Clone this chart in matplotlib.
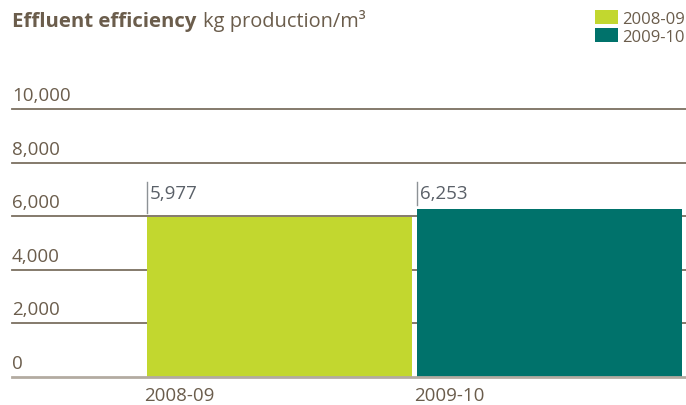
import matplotlib.pyplot as plt

# data
years = ["2008-09", "2009-10"]
values = [5977, 6253]
yticks = [0, 2000, 4000, 6000, 8000, 10000]
ytick_labels = ["0", "2,000", "4,000", "6,000", "8,000", "10,000"]
value_labels = ["5,977", "6,253"]

colors = ["#c2d72f", "#00726b"]
brown = "#6b5d4c"
plt.rcParams["font.family"] = ["Open Sans", "DejaVu Sans"]

fig = plt.figure(figsize=(6.86, 4.06), dpi=100)
W, H = 686, 406
# axes: x from 12px to 686px, y: 0 at 378px, 10000 at 110px
ax = fig.add_axes([12 / W, (H - 378) / H, 674 / W, (378 - 110) / H])
ax.set_xlim(-0.5, 1.996)
ax.set_ylim(0, 10000)
ax.axis("off")

xpos = list(range(len(years)))
bars = ax.bar(xpos, values, width=0.981, align="edge", color=colors, zorder=2)

# gridlines
for v in yticks[1:]:
    ax.axhline(v, color="#7b6f60", lw=1.3, zorder=1, clip_on=False)
ax.axhline(0, color="#b3aba1", lw=2, zorder=3, clip_on=False)

# y labels above lines
for v, lab in zip(yticks, ytick_labels):
    ax.annotate(lab, xy=(0, v), xycoords=("axes fraction", "data"),
                xytext=(0, 9), textcoords="offset pixels",
                ha="left", va="baseline", fontsize=13.5, color=brown)

# value labels at a common height, with a small marker line
label_y = 6680
for x, v, lab in zip(xpos, values, value_labels):
    ax.plot([x, x], [v + 150, label_y + 600], color="#8d9296", lw=1, zorder=3)
    ax.annotate(lab, xy=(x, label_y), xytext=(3, 0), textcoords="offset pixels",
                ha="left", va="baseline", fontsize=13.5, color="#5a6068")

# x labels
for x, lab in zip(xpos, years):
    ax.annotate(lab, xy=(x, 0), xytext=(-3, -18), textcoords="offset pixels",
                ha="left", va="center", fontsize=13.5, color=brown)

# title
fig.text(12 / W, 1 - 27 / H, "Effluent efficiency", fontsize=14.7, fontweight="bold",
         color=brown, ha="left", va="baseline")
fig.text(203 / W, 1 - 27 / H, "kg production/m³", fontsize=14.4,
         color=brown, ha="left", va="baseline")

# legend
fig.legend(bars, years, loc="upper left", bbox_to_anchor=(595 / W, 1 - 11 / H),
           frameon=False, fontsize=12, labelcolor=brown, handlelength=1.38,
           handleheight=0.96, handletextpad=0.25, labelspacing=0.05,
           borderaxespad=0, borderpad=0)

plt.savefig("out.png", dpi=100)
